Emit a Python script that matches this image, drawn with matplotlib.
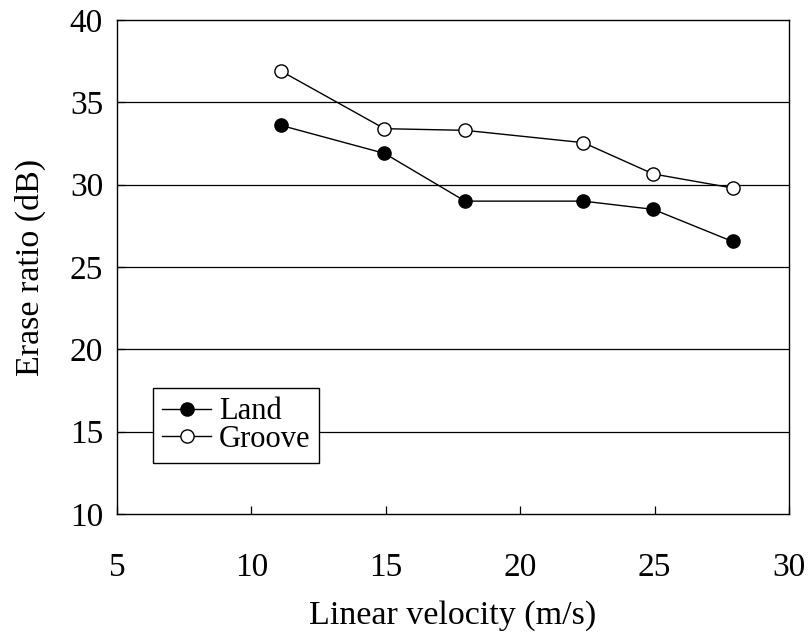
import matplotlib
matplotlib.use("Agg")
import matplotlib.pyplot as plt

velocity = [11.1, 14.95, 17.95, 22.35, 24.95, 27.9]
land = [33.6, 31.9, 29.0, 29.0, 28.5, 26.55]
groove = [36.9, 33.4, 33.3, 32.55, 30.65, 29.8]
x_ticks = [5, 10, 15, 20, 25, 30]
y_ticks = [10, 15, 20, 25, 30, 35, 40]

plt.rcParams['font.family'] = ['Liberation Serif', 'DejaVu Serif']
fig = plt.figure(figsize=(8.11, 6.42), dpi=100)
ax = fig.add_axes([117/811, 1-514/642, 672/811, 494/642])

for y in y_ticks[1:-1]:
    ax.axhline(y, color='black', lw=0.9, zorder=1)

ax.plot(velocity, land, color='black', lw=1.0, marker='o', ms=9.5,
        mfc='black', mec='black', mew=1.0, label='Land', zorder=3)
ax.plot(velocity, groove, color='black', lw=1.0, marker='o', ms=9.5,
        mfc='white', mec='black', mew=1.0, label='Groove', zorder=3)

ax.set_xlim(5, 30)
ax.set_ylim(10, 40)
ax.set_xticks(x_ticks)
ax.set_yticks(y_ticks)
ax.tick_params(direction='in', length=6, width=0.9, labelsize=24, pad=10)
ax.tick_params(axis='x', pad=28)
for s in ax.spines.values():
    s.set_linewidth(1.0)

ax.set_xlabel('Linear velocity (m/s)', fontsize=24.5, labelpad=12)
ax.set_ylabel('Erase ratio (dB)', fontsize=24.5, labelpad=17)

leg = ax.legend(loc='lower left', bbox_to_anchor=(36/672, 51/494), fontsize=22,
                frameon=True, fancybox=False, framealpha=1, edgecolor='black',
                handlelength=1.6, handletextpad=0.25, borderpad=0.3,
                labelspacing=-0.05, borderaxespad=0)
leg.get_frame().set_linewidth(1.0)

fig.savefig('out.png', dpi=100)
